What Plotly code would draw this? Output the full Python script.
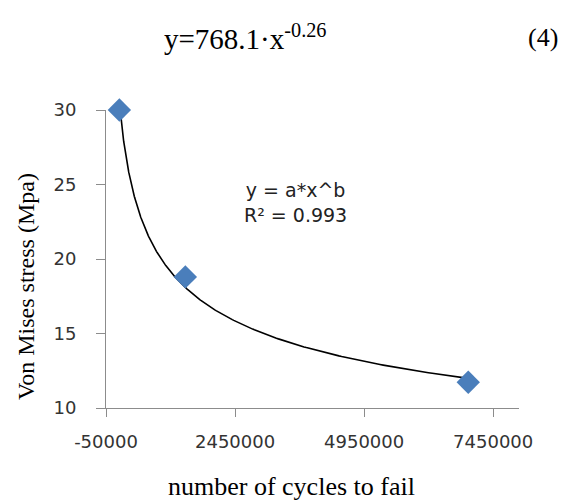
import numpy as np
import plotly.graph_objects as go

cycles = [209000, 1487000, 6967000]
stress = [30.0, 18.8, 11.73]
x_ticks = [-50000, 2450000, 4950000, 7450000]
x_tick_labels = ["-50000", "2450000", "4950000", "7450000"]
y_ticks = [10, 15, 20, 25, 30]

# power-law trendline fitted from the data (as the spreadsheet did)
lx, ly = np.log(cycles), np.log(stress)
b, ln_a = np.polyfit(lx, ly, 1)
xf = np.geomspace(min(cycles), max(cycles), 300)
yf = np.exp(ln_a) * xf ** b

fig = go.Figure()
fig.add_trace(go.Scatter(x=xf, y=yf, mode="lines",
                         line=dict(color="black", width=1.6), hoverinfo="skip"))
fig.add_trace(go.Scatter(x=cycles, y=stress, mode="markers", cliponaxis=False,
                         marker=dict(symbol="diamond", size=18, color="#4A7EBB",
                                     line=dict(width=0))))

tick_font = dict(family="DejaVu Sans", size=18, color="#333333")
fig.update_layout(
    width=571, height=503,
    margin=dict(l=106, r=52, t=110, b=95),
    paper_bgcolor="white", plot_bgcolor="white",
    showlegend=False,
    xaxis=dict(range=[-50000, 7950000], tickvals=x_ticks, ticktext=x_tick_labels,
               showgrid=False, zeroline=False, showline=True, linecolor="#8c8c8c",
               linewidth=1, ticks="outside", ticklen=8, tickcolor="#8c8c8c",
               tickfont=tick_font, ticklabelstandoff=9),
    yaxis=dict(range=[10, 30], tickvals=y_ticks,
               showgrid=False, zeroline=False, showline=True, linecolor="#8c8c8c",
               linewidth=1, ticks="outside", ticklen=9, tickcolor="#8c8c8c",
               tickfont=tick_font, ticklabelstandoff=16),
    annotations=[
        dict(text="y=768.1·x<sup>-0.26</sup>", xref="paper", yref="paper",
             x=0.338, y=1.245, xanchor="center", yanchor="middle", showarrow=False,
             font=dict(family="Liberation Serif", size=29, color="black")),
        dict(text="(4)", xref="paper", yref="paper",
             x=1.057, y=1.242, xanchor="center", yanchor="middle", showarrow=False,
             font=dict(family="Liberation Serif", size=26, color="black")),
        dict(text="y = a*x^b<br>R² = 0.993", xref="paper", yref="paper",
             x=0.458, y=0.691, xanchor="center", yanchor="middle", showarrow=False,
             align="center",
             font=dict(family="DejaVu Sans", size=19, color="#222222")),
        dict(text="Von Mises stress (Mpa)", xref="paper", yref="paper",
             x=-0.194, y=0.409, xanchor="center", yanchor="middle", showarrow=False,
             textangle=-90,
             font=dict(family="Liberation Serif", size=24, color="black")),
        dict(text="number of cycles to fail", xref="paper", yref="paper",
             x=0.449, y=-0.265, xanchor="center", yanchor="middle", showarrow=False,
             font=dict(family="Liberation Serif", size=26, color="black")),
    ],
)
fig.write_html("out.html")
